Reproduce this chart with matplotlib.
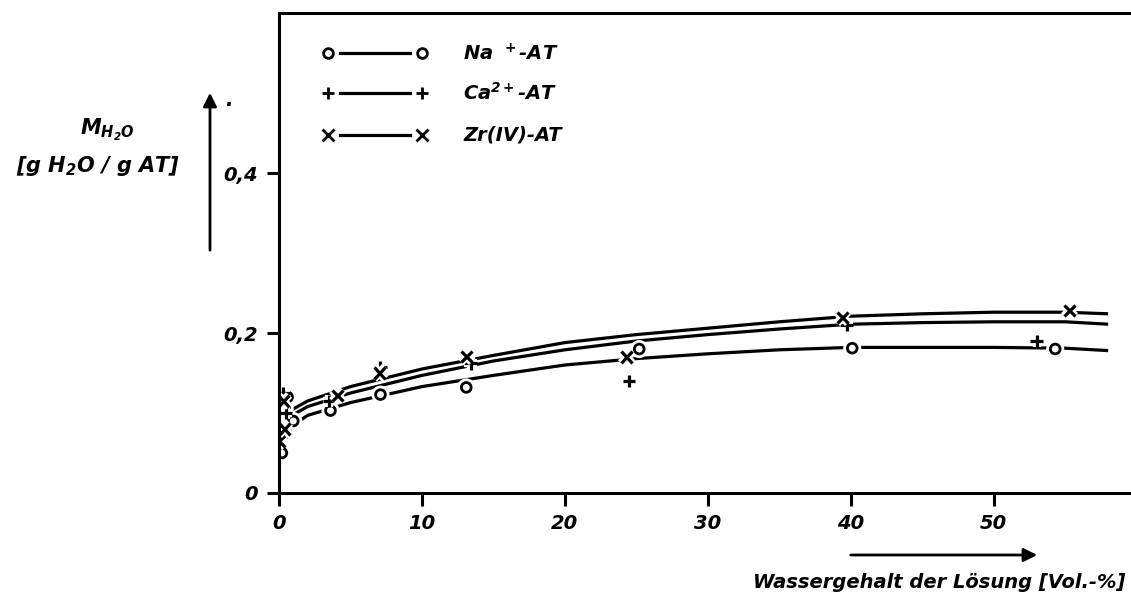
import matplotlib
matplotlib.use('Agg')
import matplotlib.pyplot as plt
import matplotlib.patheffects as pe

plt.rcParams['font.family'] = ['DejaVu Sans']
plt.rcParams['mathtext.default'] = 'regular'

# measured points (x = water content in vol-%, y = M_H2O)
na_x = [0.2, 0.4, 0.6, 1.0, 3.6, 7.1, 13.1, 25.2, 40.1, 54.3]
na_y = [0.050, 0.105, 0.120, 0.090, 0.103, 0.123, 0.132, 0.180, 0.181, 0.180]
ca_x = [0.1, 0.3, 0.5, 3.5, 7.1, 13.4, 24.5, 39.7, 53.0]
ca_y = [0.070, 0.125, 0.100, 0.115, 0.157, 0.162, 0.140, 0.210, 0.190]
zr_x = [0.0, 0.3, 0.4, 4.1, 7.0, 13.1, 24.3, 39.4, 55.3]
zr_y = [0.065, 0.115, 0.080, 0.122, 0.150, 0.171, 0.170, 0.219, 0.228]

# hand drawn curves
zr_cx = [0.8, 2, 5, 10, 15, 20, 25, 30, 35, 40, 45, 50, 55, 58]
zr_cy = [0.103, 0.115, 0.133, 0.155, 0.172, 0.188, 0.198, 0.206, 0.214, 0.221, 0.224, 0.226, 0.226, 0.224]
ca_cx = [0.7, 2, 5, 10, 15, 20, 25, 30, 35, 40, 45, 50, 55, 58]
ca_cy = [0.095, 0.108, 0.125, 0.147, 0.165, 0.179, 0.190, 0.198, 0.205, 0.211, 0.213, 0.214, 0.214, 0.211]
na_cx = [0.6, 1, 2, 5, 10, 15, 20, 25, 30, 35, 40, 45, 50, 55, 58]
na_cy = [0.074, 0.085, 0.097, 0.113, 0.133, 0.147, 0.160, 0.168, 0.174, 0.179, 0.182, 0.182, 0.182, 0.181, 0.178]

x_ticks = [0, 10, 20, 30, 40, 50]
y_ticks = [0, 0.2, 0.4]
y_labels = ['0', '0,2', '0,4']

font = dict(fontstyle='italic', fontweight='bold')

fig = plt.figure(figsize=(11.31, 6.01), dpi=100)
ax = fig.add_axes([279 / 1131, 108 / 601, 1 - 279 / 1131, 480 / 601])
ax.set_xlim(0, 59.6)
ax.set_ylim(0, 0.6)
ax.spines['right'].set_visible(False)
for s in ['left', 'top', 'bottom']:
    ax.spines[s].set_linewidth(2.2)

ax.plot(zr_cx, zr_cy, color='black', lw=2.3, solid_capstyle='butt')
ax.plot(ca_cx, ca_cy, color='black', lw=2.3, solid_capstyle='butt')
ax.plot(na_cx, na_cy, color='black', lw=2.3, solid_capstyle='butt')

halo = [pe.withStroke(linewidth=6, foreground='white')]
ax.plot(na_x, na_y, 'o', ms=7, mfc='white', mec='black', mew=2, ls='none', path_effects=halo)
ax.plot(ca_x, ca_y, '+', ms=9, mec='black', mew=2.3, ls='none', path_effects=halo)
ax.plot(zr_x, zr_y, 'x', ms=8, mec='black', mew=2.3, ls='none', path_effects=halo)

# legend rows: marker - line - marker, then label
rows = [('o', 'Na$^{\\ \\ +}$-AT'), ('+', 'Ca$^{2+}$-AT'), ('x', 'Zr(IV)-AT')]
row_y = [0.916, 0.833, 0.746]
for (m, lab), yy in zip(rows, row_y):
    ax.plot([0.072, 0.154], [yy, yy], color='black', lw=2.3, transform=ax.transAxes)
    ax.plot([0.057, 0.168], [yy, yy], m, ms=7 if m == 'o' else 8, mfc='white', mec='black',
            mew=2, ls='none', transform=ax.transAxes, clip_on=False)
    ax.text(0.216, yy, lab, transform=ax.transAxes, fontsize=14, va='center', **font)

ax.set_xticks(x_ticks)
ax.set_xticklabels([str(t) for t in x_ticks], fontsize=14, **font)
ax.set_yticks(y_ticks)
ax.set_yticklabels(y_labels, fontsize=14, **font)
ax.tick_params(direction='out', length=9, width=2.2, pad=6)

# axis annotations
fig.text(107 / 1131, 1 - 130 / 601, 'M$_{H_2O}$', fontsize=15, ha='center', va='center', **font)
fig.text(98 / 1131, 1 - 166 / 601, '[g H$_2$O / g AT]', fontsize=15, ha='center', va='center', **font)
fig.patches.append(matplotlib.patches.FancyArrowPatch(
    (210 / 1131, 1 - 253 / 601), (210 / 1131, 1 - 90 / 601), transform=fig.transFigure,
    arrowstyle='-|>,head_length=8,head_width=4', lw=2, color='black', mutation_scale=1))
fig.text(229 / 1131, 1 - 101 / 601, '.', fontsize=14, ha='center', va='center', **font)

fig.patches.append(matplotlib.patches.FancyArrowPatch(
    (848 / 1131, 1 - 555 / 601), (1040 / 1131, 1 - 555 / 601), transform=fig.transFigure,
    arrowstyle='-|>,head_length=8,head_width=4', lw=2, color='black', mutation_scale=1))
fig.text(1125 / 1131, 1 - 582 / 601, 'Wassergehalt der Lösung [Vol.-%]', fontsize=14,
         ha='right', va='center', **font)

fig.savefig('out.png', dpi=100)
